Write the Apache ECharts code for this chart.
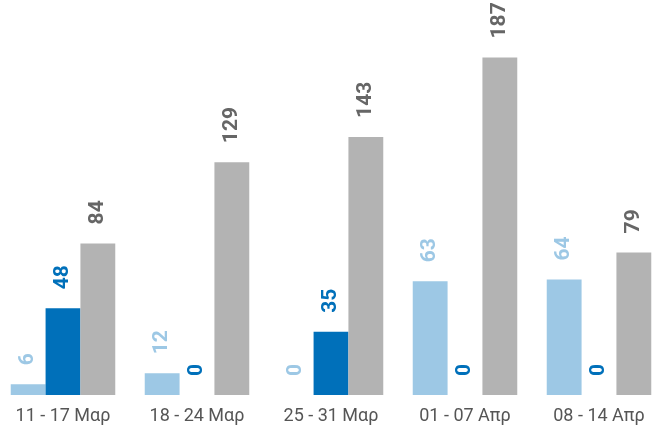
<!DOCTYPE html>
<html>
<head>
<meta charset="utf-8">
<script src="https://cdn.jsdelivr.net/npm/echarts@6/dist/echarts.min.js"></script>
<style>html,body{margin:0;padding:0;background:#fff;overflow:hidden;width:655px;height:431px}#c{position:absolute;left:-4px;top:0;width:670px;height:431px}</style>
</head>
<body>
<div id="c"></div>
<script>
const categories = ['11 - 17 Μαρ', '18 - 24 Μαρ', '25 - 31 Μαρ', '01 - 07 Απρ', '08 - 14 Απρ'];
const seriesA = [6, 12, 0, 63, 64];
const seriesB = [48, 0, 35, 0, 0];
const seriesC = [84, 129, 143, 187, 79];

const colors = ['#9dc8e5', '#0070ba', '#b3b3b3'];
const labelColors = ['#9dc8e5', '#0070ba', '#666666'];

function mk(data, i) {
  return {
    type: 'bar',
    data: data,
    barGap: '0%',
    barCategoryGap: '22%',
    itemStyle: { color: colors[i] },
    label: {
      show: true,
      position: 'top',
      rotate: 90,
      align: 'left',
      verticalAlign: 'middle',
      distance: 19,
      color: labelColors[i],
      fontFamily: 'Roboto',
      fontWeight: 'bold',
      fontSize: 21
    }
  };
}

const chart = echarts.init(document.getElementById('c'));
chart.setOption({
  animation: false,
  grid: { left: 0, right: 0, top: 34, height: 361, containLabel: false },
  xAxis: {
    type: 'category',
    data: categories,
    axisLine: { show: false },
    axisTick: { show: false },
    axisLabel: { color: '#555555', fontSize: 18, fontFamily: 'Roboto', margin: 12 }
  },
  yAxis: {
    type: 'value',
    min: 0,
    max: 200,
    show: false,
    splitLine: { show: false }
  },
  series: [mk(seriesA, 0), mk(seriesB, 1), mk(seriesC, 2)]
});
</script>
</body>
</html>
